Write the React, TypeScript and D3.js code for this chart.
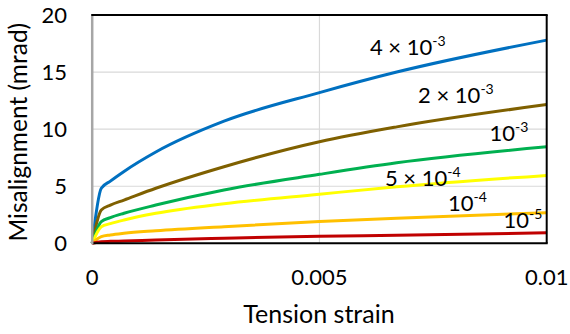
import React, { useEffect, useRef } from 'react'
import * as d3 from 'd3'

// tension strain sample points
const strain = [0, 0.0002, 0.0004, 0.0007, 0.0014, 0.0029, 0.005, 0.0067, 0.01]

// misalignment (mrad) for each curve
const mis4e3 = [0, 4.82, 5.45, 6.3, 8.0, 10.7, 13.2, 15.0, 17.8]
const mis2e3 = [0, 2.92, 3.35, 3.79, 4.82, 6.71, 8.9, 10.2, 12.15]
const mis1e3 = [0, 1.9, 2.25, 2.63, 3.35, 4.67, 6.04, 7.05, 8.45]
const mis5e4 = [0, 1.46, 1.72, 2.04, 2.63, 3.47, 4.3, 4.95, 5.95]
const mis1e4 = [0, 0.58, 0.73, 0.88, 1.1, 1.46, 1.9, 2.2, 2.68]
const mis1e5 = [0, 0.14, 0.17, 0.2, 0.29, 0.44, 0.62, 0.7, 0.92]

const seriesValues = [mis4e3, mis2e3, mis1e3, mis5e4, mis1e4, mis1e5]
const seriesColors = ['#0070C0', '#7F6000', '#00B050', '#FFFF00', '#FFC000', '#C00000']

// curve labels: mantissa text, exponent, anchor in data units
const labelText = ['4 × 10', '2 × 10', '10', '5 × 10', '10', '10']
const labelExp = ['-3', '-3', '-3', '-4', '-4', '-5']
const labelX = [0.00611, 0.00717, 0.00874, 0.00644, 0.00783, 0.00905]
const labelY = [16.5, 12.32, 8.99, 5.05, 2.86, 1.37]

const xTicks = [0, 0.005, 0.01]
const yTicks = [0, 5, 10, 15, 20]

const W = 570
const H = 334
const FONT = 'Lato, Carlito, Calibri, sans-serif'

export default function App() {
    const ref = useRef<SVGSVGElement>(null)

    useEffect(() => {
        const svg = d3.select(ref.current)
        svg.selectAll('*').remove()

        const left = 92.2, right = 546.7, top = 15, bottom = 243.3

        const x = d3.scaleLinear().domain([0, 0.01]).range([left, right])
        const y = d3.scaleLinear().domain([0, 20]).range([bottom, top])

        // gridlines
        svg.append('g')
            .selectAll('line')
            .data(yTicks.slice(1, -1))
            .enter()
            .append('line')
            .attr('x1', left).attr('x2', right)
            .attr('y1', d => y(d)).attr('y2', d => y(d))
            .attr('stroke', '#d9d9d9')
            .attr('stroke-width', 1.2)

        svg.append('g')
            .selectAll('line')
            .data(xTicks.slice(1, -1))
            .enter()
            .append('line')
            .attr('x1', d => x(d)).attr('x2', d => x(d))
            .attr('y1', top).attr('y2', bottom)
            .attr('stroke', '#d9d9d9')
            .attr('stroke-width', 1.2)

        // curves
        const line = d3.line<number>()
            .x((d, i) => x(strain[i]))
            .y(d => y(d))
            .curve(d3.curveMonotoneX)

        svg.append('g')
            .selectAll('path')
            .data(seriesValues)
            .enter()
            .append('path')
            .attr('d', d => line(d))
            .attr('fill', 'none')
            .attr('stroke', (d, i) => seriesColors[i])
            .attr('stroke-width', 3)
            .attr('stroke-linejoin', 'round')

        // frame
        svg.append('line').attr('x1', left - 1).attr('x2', right + 1).attr('y1', top).attr('y2', top)
            .attr('stroke', '#000').attr('stroke-width', 2)
        svg.append('line').attr('x1', right).attr('x2', right).attr('y1', top).attr('y2', bottom)
            .attr('stroke', '#000').attr('stroke-width', 2)
        svg.append('line').attr('x1', left).attr('x2', right + 1).attr('y1', bottom).attr('y2', bottom)
            .attr('stroke', '#000').attr('stroke-width', 2)
        svg.append('line').attr('x1', left).attr('x2', left).attr('y1', top + 1).attr('y2', bottom + 1)
            .attr('stroke', '#a6a6a6').attr('stroke-width', 2.5)

        // tick labels
        svg.append('g')
            .selectAll('text')
            .data(yTicks)
            .enter()
            .append('text')
            .attr('x', 67)
            .attr('y', d => y(d))
            .attr('dy', '0.36em')
            .attr('text-anchor', 'end')
            .attr('font-family', FONT)
            .attr('font-size', 22)
            .attr('fill', '#000')
            .text(d => d)

        svg.append('g')
            .selectAll('text')
            .data(xTicks)
            .enter()
            .append('text')
            .attr('x', d => x(d))
            .attr('y', 285)
            .attr('text-anchor', 'middle')
            .attr('font-family', FONT)
            .attr('font-size', 22)
            .attr('fill', '#000')
            .text(d => d3.format('~g')(d))

        // axis titles
        svg.append('text')
            .attr('x', 319)
            .attr('y', 323)
            .attr('text-anchor', 'middle')
            .attr('font-family', FONT)
            .attr('font-size', 25)
            .text('Tension strain')

        svg.append('text')
            .attr('transform', `translate(27,${(top + bottom) / 2 + 3}) rotate(-90)`)
            .attr('text-anchor', 'middle')
            .attr('font-family', FONT)
            .attr('font-size', 24.5)
            .text('Misalignment (mrad)')

        // curve labels
        const labels = svg.append('g')
            .selectAll('text')
            .data(labelText)
            .enter()
            .append('text')
            .attr('x', (d, i) => x(labelX[i]))
            .attr('y', (d, i) => y(labelY[i]))
            .attr('font-family', FONT)
            .attr('font-size', 22)
            .attr('fill', '#000')

        labels.append('tspan').text(d => d)
        labels.append('tspan')
            .attr('font-size', 14)
            .attr('dy', -8.5)
            .text((d, i) => labelExp[i])
    }, [])

    return (
        <svg ref={ref} width={W} height={H}
            style={{ position: 'absolute', left: 0, top: 0, background: '#fff' }} />
    )
}
